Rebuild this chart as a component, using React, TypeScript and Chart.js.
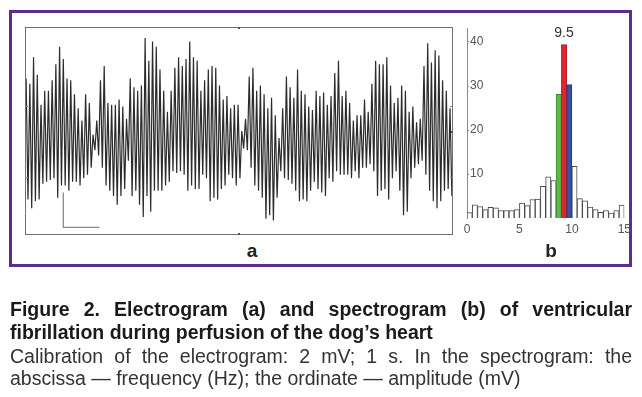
import React, { useEffect, useRef } from 'react';
import { Chart, registerables } from 'chart.js';
Chart.register(...registerables);

// Electrogram (a): successive peak and trough amplitudes of each fibrillation cycle, mV
const egPeaks = [
  3.0, 2.7, 4.2, 3.2, 1.5, 2.3, 2.3, 2.9, 3.8, 4.8, 4.1, 3.0, 2.9, 2.1, 1.3, 0.6, 2.1, 1.6, -0.2, 0.6,
  2.9, 3.7, 1.6, 1.5, 1.5, 1.8, 1.4, 0.7,
  3.0, 2.5, 2.3, 2.6, 5.3, 4.0, 5.1, 4.8, 3.5, 2.3, 1.1, 2.3, 3.6, 4.2, 3.7, 4.1, 5.1, 4.2, 4.0, 2.3,
  2.9, 3.5, 3.7, 3.6, 2.6, 1.8, 2.0, 1.3, 1.5,
  1.5, 0.0, 0.7, 3.1, 3.6, 2.3, 2.6, 2.1, 1.3, 1.9, 0.9, -0.4, 1.3, 3.1, 2.5, 1.9, 3.5, 2.3, 2.1, 1.4,
  1.2, 2.3, 2.0, 2.2, 1.5, 2.0, 3.3, 4.0,
  2.0, 2.3, 1.6, 0.6, 0.9, 0.9, 1.8, 1.1, 2.7, 4.0, 3.8, 3.8, 4.2, 2.6, 1.6, 1.9, 2.6, 2.3, 1.1, 1.4,
  0.5, 0.7, 3.7, 5.0, 3.9, 4.6, 4.3, 2.9, 2.3, 1.3,
];
const egTroughs = [
  -3.9, -4.4, -4.0, -3.9, -3.0, -2.9, -2.8, -2.7, -3.8, -3.1, -3.1, -3.4, -2.9, -2.9, -3.1, -2.7, -2.5, -2.1, -1.1, -1.4,
  -2.1, -3.1, -3.4, -3.7, -4.2, -3.7, -3.3, -1.7,
  -3.7, -3.4, -4.2, -4.9, -3.7, -4.6, -3.4, -3.4, -3.4, -3.1, -2.9, -2.3, -2.4, -2.3, -2.5, -3.4, -3.1, -3.3, -3.3, -2.5,
  -2.7, -4.0, -3.8, -3.9, -3.3, -3.1, -2.5, -2.7, -3.1,
  -2.7, -1.0, -1.1, -2.1, -3.1, -3.4, -3.8, -5.0, -4.8, -5.1, -3.8, -2.3, -2.7, -2.8, -3.0, -3.4, -4.0, -3.9, -4.0, -3.4,
  -2.9, -3.3, -3.5, -3.7, -2.7, -2.9, -2.3, -2.5,
  -2.5, -2.5, -2.7, -2.3, -2.7, -2.1, -2.1, -1.9, -2.3, -3.7, -3.4, -3.3, -3.9, -2.7, -2.3, -3.4, -4.8, -4.6, -2.7, -2.1,
  -1.9, -1.7, -2.5, -3.4, -4.0, -4.4, -4.0, -3.4, -3.3, -3.7,
];
const egFrameTicksMv = [1.4, -0.6, -2.6];
const calStartSample = 20;
const calSamplesPerSecond = 19.4;
const calMv = 2;
const calBaseMv = -5.5;

// Spectrogram (b): 0.5 Hz bins, amplitude mV
const specBinCenters = [
  0.25, 0.75, 1.25, 1.75, 2.25, 2.75, 3.25, 3.75, 4.25, 4.75,
  5.25, 5.75, 6.25, 6.75, 7.25, 7.75, 8.25, 8.75, 9.25, 9.75,
  10.25, 10.75, 11.25, 11.75, 12.25, 12.75, 13.25, 13.75, 14.25, 14.75,
];
const specAmp = [
  1.2, 3.0, 2.6, 1.9, 2.4, 2.3, 1.7, 1.7, 1.7, 1.9,
  3.4, 2.8, 4.2, 4.3, 7.2, 9.3, 8.5, 28.0, 39.3, 30.2,
  11.7, 4.4, 3.9, 2.5, 1.9, 1.3, 1.7, 1.1, 1.7, 2.9,
];
const specHighlight: Record<number, string> = { 17: '#5cb947', 18: '#e4242b', 19: '#3c4fa6' };
const specHighlightBorder: Record<number, string> = { 17: '#3f8f30', 18: '#a8161c', 19: '#26357a' };
const peakIndex = 18;
const peakLabel = '9.5';
const specYTicks = [10, 20, 30, 40];

const SANS = '"Liberation Sans", Arial, Helvetica, sans-serif';

function Electrogram() {
  const ref = useRef<HTMLCanvasElement>(null);
  useEffect(() => {
    const seq: { x: number; y: number }[] = [];
    egPeaks.forEach((p, i) => {
      seq.push({ x: seq.length, y: p });
      seq.push({ x: seq.length, y: egTroughs[i] });
    });
    const cal = [
      { x: calStartSample, y: calBaseMv + calMv },
      { x: calStartSample, y: calBaseMv },
      { x: calStartSample + calSamplesPerSecond, y: calBaseMv },
    ];
    const framePlugin = {
      id: 'frame',
      afterDraw(chart: any) {
        const { ctx, chartArea: a, scales } = chart;
        ctx.save();
        ctx.strokeStyle = '#707070';
        ctx.lineWidth = 1;
        ctx.strokeRect(a.left + 0.5, a.top + 0.5, a.right - a.left - 1, a.bottom - a.top - 1);
        ctx.strokeStyle = '#808080';
        egFrameTicksMv.forEach((v) => {
          const y = Math.round(scales.y.getPixelForValue(v)) + 0.5;
          ctx.beginPath();
          ctx.moveTo(a.left, y); ctx.lineTo(a.left + 3, y);
          ctx.moveTo(a.right, y); ctx.lineTo(a.right - 3, y);
          ctx.stroke();
        });
        const cx = Math.round((a.left + a.right) / 2);
        ctx.fillStyle = '#555';
        ctx.fillRect(cx - 1, a.top, 2, 2);
        ctx.fillRect(cx - 1, a.bottom - 2, 2, 2);
        ctx.fillRect(a.right - 2, Math.round(scales.y.getPixelForValue(0)), 2, 2);
        ctx.restore();
      },
    };
    const chart = new Chart(ref.current!, {
      type: 'line',
      data: {
        datasets: [
          { data: seq, borderColor: '#2c2c2c', borderWidth: 1.2, pointRadius: 0, tension: 0 },
          { data: cal, borderColor: '#8a8a8a', borderWidth: 1.3, pointRadius: 0, tension: 0 },
        ],
      },
      options: {
        animation: false,
        responsive: false,
        maintainAspectRatio: false,
        events: [],
        layout: { padding: 0 },
        plugins: { legend: { display: false }, tooltip: { enabled: false } },
        scales: {
          x: { type: 'linear', display: false, min: -0.6, max: seq.length - 0.4 },
          y: { type: 'linear', display: false, min: -5.93, max: 5.93 },
        },
      },
      plugins: [framePlugin],
    });
    return () => chart.destroy();
  }, []);
  return (
    <canvas
      ref={ref}
      width={428}
      height={208}
      style={{ position: 'absolute', left: 25, top: 27, width: 428, height: 208 }}
    />
  );
}

function Spectrogram() {
  const ref = useRef<HTMLCanvasElement>(null);
  useEffect(() => {
    const annot = {
      id: 'annot',
      afterDraw(chart: any) {
        const { ctx, chartArea: a, scales } = chart;
        ctx.save();
        ctx.strokeStyle = '#888';
        ctx.lineWidth = 1;
        specYTicks.forEach((v) => {
          const y = Math.round(scales.y.getPixelForValue(v)) + 0.5;
          ctx.beginPath();
          ctx.moveTo(a.left, y);
          ctx.lineTo(a.left + 2, y);
          ctx.stroke();
        });
        const el = chart.getDatasetMeta(0).data[peakIndex];
        ctx.fillStyle = '#333';
        ctx.font = '14px ' + SANS;
        ctx.textAlign = 'center';
        ctx.textBaseline = 'bottom';
        ctx.fillText(peakLabel, el.x, el.y - 4);
        ctx.restore();
      },
    };
    const chart = new Chart(ref.current!, {
      type: 'bar',
      data: {
        datasets: [
          {
            data: specBinCenters.map((x, i) => ({ x, y: specAmp[i] })),
            backgroundColor: specAmp.map((_, i) => specHighlight[i] || '#ffffff'),
            borderColor: specAmp.map((_, i) => specHighlightBorder[i] || '#4a4a4a'),
            borderWidth: 1,
            barPercentage: 1,
            categoryPercentage: 1,
          },
        ],
      },
      options: {
        animation: false,
        responsive: false,
        maintainAspectRatio: false,
        events: [],
        layout: { padding: { left: 12, right: 10, top: 10, bottom: 0 } },
        plugins: { legend: { display: false }, tooltip: { enabled: false } },
        scales: {
          x: {
            type: 'linear',
            offset: false,
            min: 0,
            max: 15,
            grid: { display: false, drawTicks: false },
            border: { display: false },
            ticks: { stepSize: 5, color: '#555', font: { size: 12, family: SANS }, padding: 4, maxRotation: 0, includeBounds: false },
            afterFit: (s: any) => { s.height = 30; },
          },
          y: {
            type: 'linear',
            min: 0,
            max: 43,
            grid: { display: false, drawTicks: false },
            border: { display: true, color: '#8a8a8a', width: 1 },
            ticks: {
              stepSize: 10,
              mirror: true,
              includeBounds: false,
              padding: 3,
              color: '#555',
              font: { size: 12, family: SANS },
              callback: (v: any) => (v === 0 ? '' : String(v)),
            },
            afterFit: (s: any) => { s.width = 0; },
          },
        },
      },
      plugins: [annot],
    });
    return () => chart.destroy();
  }, []);
  return (
    <canvas
      ref={ref}
      width={180}
      height={230}
      style={{ position: 'absolute', left: 455, top: 18, width: 180, height: 230 }}
    />
  );
}

export default function App() {
  const lineStyle = (justify: boolean, bold: boolean, top: number): React.CSSProperties => ({
    position: 'absolute',
    left: 0,
    top,
    width: 622,
    whiteSpace: 'nowrap',
    textAlign: justify ? 'justify' : 'left',
    textAlignLast: justify ? 'justify' : 'left',
    fontWeight: bold ? 700 : 400,
    lineHeight: '23px',
    color: bold ? '#1a1a1a' : '#333',
  });
  return (
    <div style={{ position: 'absolute', left: 0, top: 0, width: 642, height: 397, background: '#fff', overflow: 'hidden' }}>
      <div style={{ position: 'absolute', left: 9, top: 10, width: 617, height: 251, border: '3.5px solid #5b2d8e' }} />
      <Electrogram />
      <Spectrogram />
      <div style={{ position: 'absolute', left: 240, top: 240, width: 24, textAlign: 'center', fontFamily: SANS, fontWeight: 700, fontSize: 19, color: '#222', lineHeight: '22px' }}>a</div>
      <div style={{ position: 'absolute', left: 539, top: 240, width: 24, textAlign: 'center', fontFamily: SANS, fontWeight: 700, fontSize: 19, color: '#222', lineHeight: '22px' }}>b</div>
      <div style={{ position: 'absolute', left: 10, top: 0, width: 622, height: 397, fontFamily: SANS, fontSize: 19.5 }}>
        <div style={lineStyle(true, true, 298)}>Figure 2. Electrogram (a) and spectrogram (b) of ventricular</div>
        <div style={lineStyle(false, true, 321)}>fibrillation during perfusion of the dog’s heart</div>
        <div style={lineStyle(true, false, 345)}>Calibration of the electrogram: 2 mV; 1 s. In the spectrogram: the</div>
        <div style={lineStyle(false, false, 367)}>abscissa — frequency (Hz); the ordinate — amplitude (mV)</div>
      </div>
    </div>
  );
}
